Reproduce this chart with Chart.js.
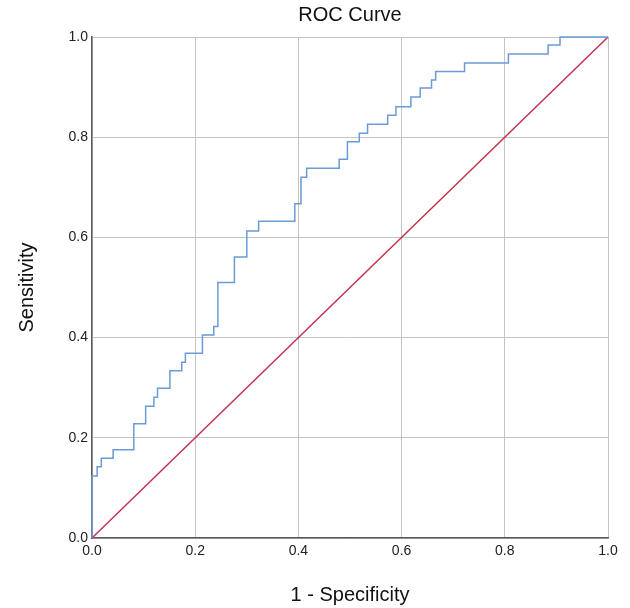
<!DOCTYPE html>
<html>
<head>
<meta charset="utf-8">
<title>ROC Curve</title>
<script src="https://cdn.jsdelivr.net/npm/chart.js@4.4.1/dist/chart.umd.min.js"></script>
<style>
  body { margin: 0; background: #fff; }
  #wrap { width: 630px; height: 608px; }
</style>
</head>
<body>
<div id="wrap"><canvas id="rocChart" width="630" height="608"></canvas></div>
<script>
// 1 - specificity (false positive rate) at each step of the curve
const fpr = [0, 0, 0.010, 0.018, 0.041, 0.081, 0.104, 0.120, 0.127, 0.151, 0.174, 0.181,
  0.214, 0.236, 0.244, 0.276, 0.300, 0.323, 0.393, 0.405, 0.416, 0.479, 0.495, 0.518,
  0.534, 0.573, 0.589, 0.618, 0.636, 0.658, 0.666, 0.722, 0.807, 0.884, 0.907, 1.0];
// sensitivity reached after each step
const tpr = [0, 0.124, 0.142, 0.159, 0.176, 0.228, 0.263, 0.281, 0.299, 0.334, 0.351, 0.369,
  0.405, 0.422, 0.510, 0.561, 0.613, 0.632, 0.667, 0.720, 0.738, 0.756, 0.791, 0.808,
  0.826, 0.844, 0.861, 0.880, 0.898, 0.914, 0.931, 0.948, 0.966, 0.984, 1.0, 1.0];
// reference (chance) line
const refX = [0, 1];
const refY = [0, 1];
const tickValues = [0, 0.2, 0.4, 0.6, 0.8, 1.0];

const font = "Arial, 'Liberation Sans', sans-serif";

const rocPoints = fpr.map((x, i) => ({ x, y: tpr[i] }));
const refPoints = refX.map((x, i) => ({ x, y: refY[i] }));

const axisTicks = (scale) => {
  scale.ticks = tickValues.map((v) => ({ value: v }));
};

// center the title over the plot area instead of the whole canvas
const titleOverPlot = {
  id: 'titleOverPlot',
  afterLayout(chart) {
    const t = chart.titleBlock;
    if (!t) return;
    t.left = chart.chartArea.left;
    t.right = chart.chartArea.right;
    t.width = t.right - t.left;
  },
};

new Chart('rocChart', {
  type: 'scatter',
  data: {
    datasets: [
      {
        data: rocPoints,
        showLine: true,
        stepped: true,
        clip: 4,
        borderColor: '#6b9bd6',
        borderWidth: 1.5,
        pointRadius: 0,
      },
      {
        data: refPoints,
        showLine: true,
        clip: 4,
        borderColor: '#c4304f',
        borderWidth: 1.5,
        pointRadius: 0,
      },
    ],
  },
  options: {
    responsive: false,
    animation: false,
    layout: { padding: { right: 22 } },
    plugins: {
      legend: { display: false },
      tooltip: { enabled: false },
      title: {
        display: true,
        text: 'ROC Curve',
        color: '#111',
        font: { family: font, size: 20, weight: 'normal' },
        padding: { top: 3, bottom: 10 },
      },
    },
    scales: {
      x: {
        type: 'linear',
        min: 0,
        max: 1,
        afterBuildTicks: axisTicks,
        afterFit: (scale) => { scale.height = 70; },
        grid: { color: '#c4c4c4', drawTicks: false },
        border: { color: '#5a5a5a', width: 1.5 },
        ticks: {
          padding: 5,
          color: '#222',
          font: { family: font, size: 14 },
          callback: (v) => Number(v).toFixed(1),
        },
        title: {
          display: true,
          text: '1 - Specificity',
          color: '#111',
          font: { family: font, size: 20 },
          padding: { top: 4, bottom: 1 },
        },
      },
      y: {
        type: 'linear',
        min: 0,
        max: 1,
        afterBuildTicks: axisTicks,
        afterFit: (scale) => { scale.width = 92; },
        grid: { color: '#c4c4c4', drawTicks: false },
        border: { color: '#5a5a5a', width: 1.5 },
        ticks: {
          padding: 4,
          color: '#222',
          font: { family: font, size: 14 },
          callback: (v) => Number(v).toFixed(1),
        },
        title: {
          display: true,
          text: 'Sensitivity',
          color: '#111',
          font: { family: font, size: 20 },
          padding: { top: 15, bottom: 4 },
        },
      },
    },
  },
  plugins: [titleOverPlot],
});
</script>
</body>
</html>
